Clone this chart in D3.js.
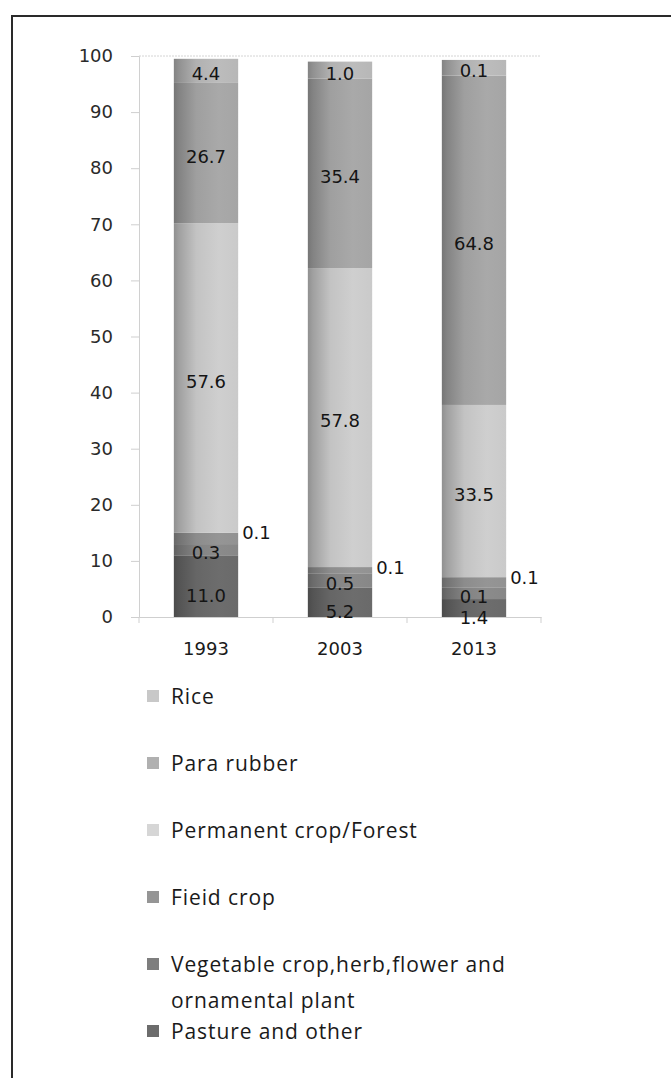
<!DOCTYPE html>
<html>
<head>
<meta charset="utf-8">
<script src="https://cdn.jsdelivr.net/npm/d3@7"></script>
<style>
  html, body { margin: 0; padding: 0; background: #fff; }
  svg { display: block; }
</style>
</head>
<body>
<svg id="chart" width="671" height="1078"></svg>
<script>
// ---------- data ----------
const categories = ["1993", "2003", "2013"];
const seriesNames = ["Pasture and other", "Vegetable crop,herb,flower and ornamental plant", "Fieid crop", "Permanent crop/Forest", "Para rubber", "Rice"];
// printed data labels (as shown on the chart)
const labelPasture   = ["11.0", "5.2", "1.4"];
const labelVegetable = ["0.3", "0.5", "0.1"];
const labelField     = ["0.1", "0.1", "0.1"];
const labelPermanent = ["57.6", "57.8", "33.5"];
const labelRubber    = ["26.7", "35.4", "64.8"];
const labelRice      = ["4.4", "1.0", "0.1"];
// segment heights as drawn in the picture (percent)
const valPasture   = [11.0, 5.2, 3.2];
const valVegetable = [2.0, 2.6, 2.0];
const valField     = [2.0, 1.1, 1.9];
const valPermanent = [55.2, 53.3, 30.7];
const valRubber    = [25.0, 33.8, 58.7];
const valRice      = [4.3, 3.0, 2.8];
const yTicks = [0, 10, 20, 30, 40, 50, 60, 70, 80, 90, 100];
const legendItems = ["Rice", "Para rubber", "Permanent crop/Forest", "Fieid crop", ["Vegetable crop,herb,flower and", "ornamental plant"], "Pasture and other"];

// ---------- styles ----------
const seriesColors = ["#686868", "#858585", "#8f8f8f", "#c6c6c6", "#a2a2a2", "#b4b4b4"];
const legendColors = ["#c8c8c8", "#b0b0b0", "#d6d6d6", "#959595", "#7e7e7e", "#6c6c6c"];
const numFont = "DejaVu Sans, Verdana, sans-serif";

const svg = d3.select("#chart");
const W = 671, H = 1078;
const plot = { left: 139, right: 541, top: 56, bottom: 617 };

// outer frame
svg.append("path")
  .attr("d", `M12,${H + 5} L12,16 L${W + 5},16`)
  .attr("fill", "none").attr("stroke", "#2a2a2a").attr("stroke-width", 2);

const x = d3.scaleBand().domain(categories).range([plot.left, plot.right])
  .paddingInner(0.52).paddingOuter(0.26);
const y = d3.scaleLinear().domain([0, 100]).range([plot.bottom, plot.top]);

// gradients
const defs = svg.append("defs");
seriesColors.forEach((c, i) => {
  const g = defs.append("linearGradient").attr("id", "grad" + i)
    .attr("x1", "0%").attr("x2", "100%").attr("y1", "0%").attr("y2", "0%");
  const base = d3.color(c);
  g.append("stop").attr("offset", "0%").attr("stop-color", base.darker(0.9));
  g.append("stop").attr("offset", "8%").attr("stop-color", base.darker(0.6));
  g.append("stop").attr("offset", "35%").attr("stop-color", base.darker(0.05));
  g.append("stop").attr("offset", "70%").attr("stop-color", base.brighter(0.12));
  g.append("stop").attr("offset", "100%").attr("stop-color", base.brighter(0.05));
});

// plot frame (light)
svg.append("line").attr("x1", plot.left).attr("x2", plot.right)
  .attr("y1", plot.top).attr("y2", plot.top)
  .attr("stroke", "#d4d4d4").attr("stroke-width", 1).attr("stroke-dasharray", "2,1");

// y axis
const yAxis = d3.axisLeft(y).tickValues(yTicks).tickSize(8).tickPadding(18).tickFormat(d3.format("d"));
const gy = svg.append("g").attr("transform", `translate(${plot.left},0)`).call(yAxis);
gy.select(".domain").attr("stroke", "#d0d0d0");
gy.selectAll(".tick line").attr("stroke", "#cfcfcf");
gy.selectAll(".tick text").attr("font-family", numFont)
  .attr("font-size", 18).attr("fill", "#2a2a2a");

// x axis
const xAxis = d3.axisBottom(x).tickSize(0).tickPadding(25);
const gx = svg.append("g").attr("transform", `translate(0,${plot.bottom})`).call(xAxis);
gx.select(".domain").attr("stroke", "#cfcfcf");
gx.selectAll(".tick text").attr("font-family", numFont)
  .attr("font-size", 18).attr("fill", "#1a1a1a");
// category boundary ticks
const step = x.step();
const boundaries = categories.map((c) => x(c) - (step - x.bandwidth()) / 2).concat([plot.right]);
svg.append("g").selectAll("line").data(boundaries).join("line")
  .attr("x1", d => d).attr("x2", d => d)
  .attr("y1", plot.bottom).attr("y2", plot.bottom + 6)
  .attr("stroke", "#cfcfcf");

// stacked data
const vals = [valPasture, valVegetable, valField, valPermanent, valRubber, valRice];
const labs = [labelPasture, labelVegetable, labelField, labelPermanent, labelRubber, labelRice];
const table = categories.map((c, j) => {
  const row = { cat: c };
  seriesNames.forEach((s, i) => row[s] = vals[i][j]);
  return row;
});
const stack = d3.stack().keys(seriesNames)(table);

const gBars = svg.append("g");
stack.forEach((layer, i) => {
  gBars.selectAll(null).data(layer).join("rect")
    .attr("x", d => x(d.data.cat))
    .attr("width", x.bandwidth())
    .attr("y", d => y(d[1]))
    .attr("height", d => y(d[0]) - y(d[1]))
    .attr("fill", `url(#grad${i})`);
});

// labels
const gLab = svg.append("g").attr("font-family", numFont)
  .attr("font-size", 18).attr("fill", "#141414");
stack.forEach((layer, i) => {
  layer.forEach((d, j) => {
    const txt = labs[i][j];
    if (i === 2) {
      gLab.append("text")
        .attr("x", x(d.data.cat) + x.bandwidth() + 4)
        .attr("y", y(d[1]))
        .attr("dominant-baseline", "central")
        .text(txt);
    } else {
      const dy = i === 0 ? 9 : 3;
      gLab.append("text")
        .attr("x", x(d.data.cat) + x.bandwidth() / 2)
        .attr("y", y((d[0] + d[1]) / 2) + dy)
        .attr("text-anchor", "middle")
        .attr("dominant-baseline", "central")
        .text(txt);
    }
  });
});

// legend
const legend = svg.append("g").attr("font-family", "Open Sans, sans-serif")
  .attr("font-size", 21).attr("letter-spacing", "0.9px").attr("fill", "#1a1a1a");
const ly = d3.scaleLinear().domain([0, 1]).range([696, 763]);
legendItems.forEach((item, i) => {
  const cy = ly(i);
  legend.append("rect").attr("x", 147).attr("y", cy - 6).attr("width", 12).attr("height", 12)
    .attr("fill", legendColors[i]);
  const lines = Array.isArray(item) ? item : [item];
  lines.forEach((ln, k) => {
    legend.append("text").attr("x", 171).attr("y", cy + k * 36)
      .attr("dominant-baseline", "central").text(ln);
  });
});
</script>
</body>
</html>
